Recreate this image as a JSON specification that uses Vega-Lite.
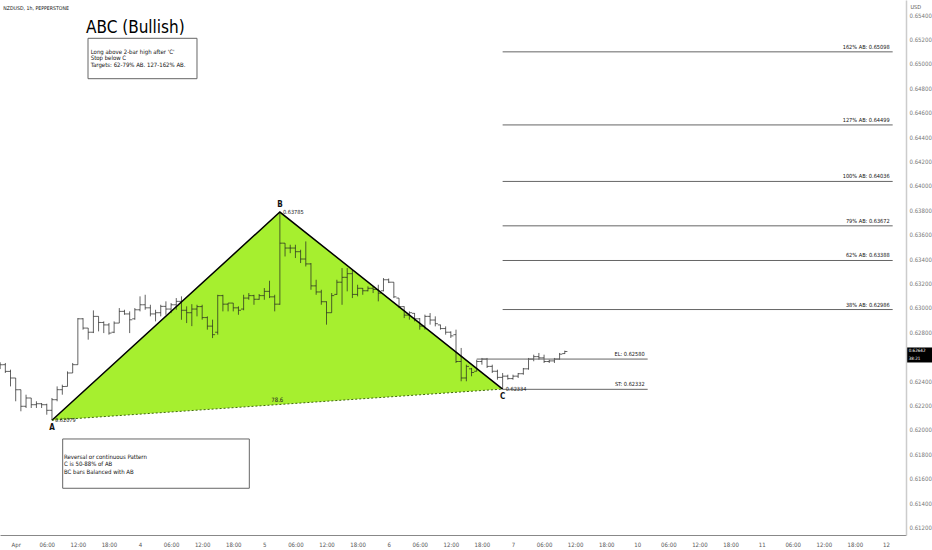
{
  "$schema": "https://vega.github.io/schema/vega-lite/v6.json",
  "width": 906,
  "height": 535,
  "autosize": {"type": "none"},
  "padding": {"left": 0, "top": 0, "right": 26, "bottom": 15},
  "background": "white",
  "config": {
    "view": {"stroke": null},
    "font": "Liberation Sans Narrow, DejaVu Sans Condensed, sans-serif",
    "axis": {"labelOverlap": false, "labelSeparation": 0, "labelBound": false, "labelFlush": false, "grid": false, "ticks": false, "tickSize": 0}
  },
  "datasets": {
    "pts": [
      {"p": "A", "h": 7, "v": 0.62079},
      {"p": "B", "h": 51, "v": 0.63785},
      {"p": "C", "h": 94, "v": 0.62334}
    ],
    "bars": [
      {"h": -3, "o": 0.62548, "hi": 0.62553, "lo": 0.62498, "c": 0.62534},
      {"h": -2, "o": 0.62534, "hi": 0.62548, "lo": 0.62466, "c": 0.62479},
      {"h": -1, "o": 0.62479, "hi": 0.62493, "lo": 0.62356, "c": 0.62425},
      {"h": 0, "o": 0.62425, "hi": 0.62425, "lo": 0.62234, "c": 0.62329},
      {"h": 1, "o": 0.62329, "hi": 0.62329, "lo": 0.62152, "c": 0.62193},
      {"h": 2, "o": 0.62193, "hi": 0.62288, "lo": 0.62179, "c": 0.62261},
      {"h": 3, "o": 0.62261, "hi": 0.62261, "lo": 0.62179, "c": 0.62206},
      {"h": 4, "o": 0.62206, "hi": 0.62234, "lo": 0.62179, "c": 0.62214},
      {"h": 5, "o": 0.62214, "hi": 0.6222, "lo": 0.62179, "c": 0.62206},
      {"h": 6, "o": 0.62206, "hi": 0.62214, "lo": 0.62124, "c": 0.6216},
      {"h": 7, "o": 0.6216, "hi": 0.62261, "lo": 0.62079, "c": 0.62247},
      {"h": 8, "o": 0.62247, "hi": 0.62356, "lo": 0.62234, "c": 0.62329},
      {"h": 9, "o": 0.62329, "hi": 0.6237, "lo": 0.62288, "c": 0.62356},
      {"h": 10, "o": 0.62356, "hi": 0.62479, "lo": 0.62356, "c": 0.62466},
      {"h": 11, "o": 0.62466, "hi": 0.62548, "lo": 0.62466, "c": 0.62534},
      {"h": 12, "o": 0.62534, "hi": 0.62916, "lo": 0.62534, "c": 0.6291},
      {"h": 13, "o": 0.6291, "hi": 0.62916, "lo": 0.62821, "c": 0.62834},
      {"h": 14, "o": 0.62834, "hi": 0.62834, "lo": 0.62739, "c": 0.628},
      {"h": 15, "o": 0.628, "hi": 0.62979, "lo": 0.62793, "c": 0.6293},
      {"h": 16, "o": 0.6293, "hi": 0.6293, "lo": 0.62807, "c": 0.6288},
      {"h": 17, "o": 0.6288, "hi": 0.62889, "lo": 0.62793, "c": 0.6286},
      {"h": 18, "o": 0.6286, "hi": 0.62875, "lo": 0.6278, "c": 0.62793},
      {"h": 19, "o": 0.628, "hi": 0.62889, "lo": 0.62793, "c": 0.62875},
      {"h": 20, "o": 0.62875, "hi": 0.62998, "lo": 0.62875, "c": 0.62971},
      {"h": 21, "o": 0.62971, "hi": 0.62984, "lo": 0.62943, "c": 0.6295},
      {"h": 22, "o": 0.6295, "hi": 0.62971, "lo": 0.62793, "c": 0.62902},
      {"h": 23, "o": 0.6291, "hi": 0.62998, "lo": 0.62902, "c": 0.62984},
      {"h": 24, "o": 0.62984, "hi": 0.63094, "lo": 0.62971, "c": 0.63025},
      {"h": 25, "o": 0.63025, "hi": 0.63107, "lo": 0.62984, "c": 0.63},
      {"h": 26, "o": 0.63, "hi": 0.63025, "lo": 0.6293, "c": 0.6295},
      {"h": 27, "o": 0.6295, "hi": 0.62984, "lo": 0.62889, "c": 0.6296},
      {"h": 28, "o": 0.6296, "hi": 0.63025, "lo": 0.6293, "c": 0.63012},
      {"h": 29, "o": 0.63012, "hi": 0.63053, "lo": 0.62943, "c": 0.6299},
      {"h": 30, "o": 0.6299, "hi": 0.63039, "lo": 0.62957, "c": 0.63025},
      {"h": 31, "o": 0.63025, "hi": 0.6308, "lo": 0.62984, "c": 0.63053},
      {"h": 32, "o": 0.63053, "hi": 0.63094, "lo": 0.62902, "c": 0.6298},
      {"h": 33, "o": 0.6298, "hi": 0.63012, "lo": 0.62875, "c": 0.6296},
      {"h": 34, "o": 0.6296, "hi": 0.6303, "lo": 0.6285, "c": 0.6299},
      {"h": 35, "o": 0.6299, "hi": 0.63025, "lo": 0.6293, "c": 0.6301},
      {"h": 36, "o": 0.6301, "hi": 0.63025, "lo": 0.62903, "c": 0.6292},
      {"h": 37, "o": 0.6292, "hi": 0.6293, "lo": 0.62821, "c": 0.6285},
      {"h": 38, "o": 0.6285, "hi": 0.62903, "lo": 0.62752, "c": 0.6278},
      {"h": 39, "o": 0.628, "hi": 0.63107, "lo": 0.6278, "c": 0.631},
      {"h": 40, "o": 0.631, "hi": 0.63107, "lo": 0.62971, "c": 0.6303},
      {"h": 41, "o": 0.6303, "hi": 0.63039, "lo": 0.62971, "c": 0.63039},
      {"h": 42, "o": 0.63039, "hi": 0.63039, "lo": 0.62971, "c": 0.63},
      {"h": 43, "o": 0.63, "hi": 0.63012, "lo": 0.62943, "c": 0.6298},
      {"h": 44, "o": 0.6299, "hi": 0.63107, "lo": 0.6298, "c": 0.6308},
      {"h": 45, "o": 0.6308, "hi": 0.63121, "lo": 0.63066, "c": 0.631},
      {"h": 46, "o": 0.631, "hi": 0.63107, "lo": 0.63025, "c": 0.6307},
      {"h": 47, "o": 0.6307, "hi": 0.63113, "lo": 0.63066, "c": 0.631},
      {"h": 48, "o": 0.631, "hi": 0.63162, "lo": 0.63066, "c": 0.63135},
      {"h": 49, "o": 0.63135, "hi": 0.63222, "lo": 0.6308, "c": 0.6309},
      {"h": 50, "o": 0.6309, "hi": 0.63107, "lo": 0.62971, "c": 0.6303},
      {"h": 51, "o": 0.6303, "hi": 0.63785, "lo": 0.63025, "c": 0.6353},
      {"h": 52, "o": 0.6353, "hi": 0.6353, "lo": 0.63421, "c": 0.6349},
      {"h": 53, "o": 0.6349, "hi": 0.63517, "lo": 0.63448, "c": 0.6349},
      {"h": 54, "o": 0.6349, "hi": 0.63517, "lo": 0.63408, "c": 0.6346},
      {"h": 55, "o": 0.6346, "hi": 0.63476, "lo": 0.63367, "c": 0.634},
      {"h": 56, "o": 0.634, "hi": 0.63544, "lo": 0.63339, "c": 0.6336},
      {"h": 57, "o": 0.6336, "hi": 0.63367, "lo": 0.63148, "c": 0.6318},
      {"h": 58, "o": 0.6318, "hi": 0.6323, "lo": 0.63107, "c": 0.6313},
      {"h": 59, "o": 0.6313, "hi": 0.63148, "lo": 0.63025, "c": 0.6305},
      {"h": 60, "o": 0.6305, "hi": 0.63053, "lo": 0.62862, "c": 0.6296},
      {"h": 61, "o": 0.6296, "hi": 0.63121, "lo": 0.6296, "c": 0.631},
      {"h": 62, "o": 0.6311, "hi": 0.6323, "lo": 0.63107, "c": 0.6321},
      {"h": 63, "o": 0.6321, "hi": 0.63326, "lo": 0.63025, "c": 0.6325},
      {"h": 64, "o": 0.6325, "hi": 0.63326, "lo": 0.63135, "c": 0.6328},
      {"h": 65, "o": 0.6328, "hi": 0.63312, "lo": 0.6308, "c": 0.6311},
      {"h": 66, "o": 0.6311, "hi": 0.63189, "lo": 0.63094, "c": 0.6316},
      {"h": 67, "o": 0.6316, "hi": 0.63162, "lo": 0.63107, "c": 0.6314},
      {"h": 68, "o": 0.6314, "hi": 0.63176, "lo": 0.63135, "c": 0.6316},
      {"h": 69, "o": 0.6316, "hi": 0.63176, "lo": 0.63121, "c": 0.6315},
      {"h": 70, "o": 0.6315, "hi": 0.63189, "lo": 0.63053, "c": 0.6312},
      {"h": 71, "o": 0.6314, "hi": 0.63244, "lo": 0.63135, "c": 0.6323},
      {"h": 72, "o": 0.6323, "hi": 0.6324, "lo": 0.63203, "c": 0.6321},
      {"h": 73, "o": 0.6321, "hi": 0.6321, "lo": 0.6308, "c": 0.6309},
      {"h": 74, "o": 0.6308, "hi": 0.6308, "lo": 0.62998, "c": 0.6301},
      {"h": 75, "o": 0.6301, "hi": 0.63012, "lo": 0.62916, "c": 0.6294},
      {"h": 76, "o": 0.6294, "hi": 0.62971, "lo": 0.62903, "c": 0.6296},
      {"h": 77, "o": 0.62955, "hi": 0.62957, "lo": 0.62889, "c": 0.6291},
      {"h": 78, "o": 0.6291, "hi": 0.62916, "lo": 0.62821, "c": 0.6285},
      {"h": 79, "o": 0.6285, "hi": 0.62944, "lo": 0.62821, "c": 0.6293},
      {"h": 80, "o": 0.6293, "hi": 0.62957, "lo": 0.62862, "c": 0.629},
      {"h": 81, "o": 0.629, "hi": 0.6293, "lo": 0.62848, "c": 0.6287},
      {"h": 82, "o": 0.6286, "hi": 0.62862, "lo": 0.62821, "c": 0.6283},
      {"h": 83, "o": 0.6283, "hi": 0.62848, "lo": 0.6278, "c": 0.628},
      {"h": 84, "o": 0.628, "hi": 0.62807, "lo": 0.62753, "c": 0.6277},
      {"h": 85, "o": 0.6278, "hi": 0.62821, "lo": 0.62548, "c": 0.6256},
      {"h": 86, "o": 0.6256, "hi": 0.62671, "lo": 0.62398, "c": 0.62425},
      {"h": 87, "o": 0.62425, "hi": 0.62534, "lo": 0.62398, "c": 0.6252},
      {"h": 88, "o": 0.625, "hi": 0.62507, "lo": 0.62439, "c": 0.6247},
      {"h": 89, "o": 0.6248, "hi": 0.62575, "lo": 0.6248, "c": 0.6256},
      {"h": 90, "o": 0.6256, "hi": 0.62589, "lo": 0.62534, "c": 0.6258},
      {"h": 91, "o": 0.6258, "hi": 0.62589, "lo": 0.62507, "c": 0.6252},
      {"h": 92, "o": 0.6252, "hi": 0.62534, "lo": 0.62466, "c": 0.6248},
      {"h": 93, "o": 0.6248, "hi": 0.62493, "lo": 0.62411, "c": 0.6243},
      {"h": 94, "o": 0.6243, "hi": 0.62466, "lo": 0.62334, "c": 0.6244},
      {"h": 95, "o": 0.6244, "hi": 0.62452, "lo": 0.62411, "c": 0.6242},
      {"h": 96, "o": 0.6242, "hi": 0.62452, "lo": 0.62411, "c": 0.6244},
      {"h": 97, "o": 0.6244, "hi": 0.62466, "lo": 0.62425, "c": 0.6246},
      {"h": 98, "o": 0.6246, "hi": 0.62507, "lo": 0.62452, "c": 0.625},
      {"h": 99, "o": 0.625, "hi": 0.62589, "lo": 0.62493, "c": 0.6258},
      {"h": 100, "o": 0.6258, "hi": 0.62616, "lo": 0.62562, "c": 0.626},
      {"h": 101, "o": 0.626, "hi": 0.6263, "lo": 0.62575, "c": 0.6259},
      {"h": 102, "o": 0.6259, "hi": 0.62616, "lo": 0.62548, "c": 0.6256},
      {"h": 103, "o": 0.6256, "hi": 0.62575, "lo": 0.62548, "c": 0.62565},
      {"h": 104, "o": 0.62565, "hi": 0.62589, "lo": 0.62548, "c": 0.6258},
      {"h": 105, "o": 0.6258, "hi": 0.6263, "lo": 0.62575, "c": 0.6262},
      {"h": 106, "o": 0.62625, "hi": 0.62649, "lo": 0.62622, "c": 0.62642}
    ],
    "levels": [
      {"lbl": "162% AB: 0.65098", "v": 0.65098, "h1": 94, "h2": 169.3},
      {"lbl": "127% AB: 0.64499", "v": 0.64499, "h1": 94, "h2": 169.3},
      {"lbl": "100% AB: 0.64036", "v": 0.64036, "h1": 94, "h2": 169.3},
      {"lbl": "79% AB: 0.63672", "v": 0.63672, "h1": 94, "h2": 169.3},
      {"lbl": "62% AB: 0.63388", "v": 0.63388, "h1": 94, "h2": 169.3},
      {"lbl": "38% AB: 0.62986", "v": 0.62986, "h1": 94, "h2": 169.3},
      {"lbl": "EL: 0.62580", "v": 0.6258, "h1": 89, "h2": 122},
      {"lbl": "ST: 0.62332", "v": 0.62332, "h1": 94, "h2": 122}
    ],
    "boxes": [
      {"h1": 13.96, "h2": 35.0, "v1": 0.65209, "v2": 0.64878},
      {"h1": 9.07, "h2": 45.1, "v1": 0.61925, "v2": 0.61521}
    ],
    "notes": [
      {"t": "Long above 2-bar high after 'C'", "h": 14.48, "v": 0.65084},
      {"t": "Stop below C", "h": 14.48, "v": 0.6503},
      {"t": "Targets:  62-79% AB. 127-162% AB.", "h": 14.48, "v": 0.64975},
      {"t": "Reversal or continuous Pattern", "h": 9.32, "v": 0.61761},
      {"t": "C is 50-88% of AB", "h": 9.32, "v": 0.61701},
      {"t": "BC bars Balanced with AB", "h": 9.32, "v": 0.61642}
    ],
    "title": [{"t": "ABC (Bullish)", "h": 13.57, "v": 0.6525}],
    "header": [{"t": "NZDUSD, 1h, PEPPERSTONE", "h": -2.39, "v": 0.65441}],
    "ratio": [{"t": "78.6", "h": 50.5, "v": 0.622065}],
    "pricebox": [{"h1": 172.1, "h2": 176.9, "v1": 0.62675, "v2": 0.62552}],
    "pricetext": [
      {"t": "0.62642", "h": 172.4, "v": 0.6265},
      {"t": "38:21", "h": 172.4, "v": 0.62577}
    ]
  },
  "layer": [
    {
      "data": {"name": "pts"},
      "mark": {"type": "line", "interpolate": "linear-closed", "fill": "#a6ef2f", "strokeOpacity": 0},
      "encoding": {
        "x": {
          "field": "h", "type": "quantitative", "title": null,
          "scale": {"domain": [-3.03, 171.87], "nice": false, "zero": false},
          "axis": {
            "title": null, "orient": "bottom", "grid": false, "ticks": false, "tickSize": 0, "tickCount": 60,
            "domainColor": "#888888", "domainWidth": 1,
            "values": [0, 6, 12, 18, 24, 30, 36, 42, 48, 54, 60, 66, 72, 78, 84, 90, 96, 102, 108, 114, 120, 126, 132, 138, 144, 150, 156, 162, 168],
            "labelExpr": "datum.value % 24 === 0 ? ['Apr','4','5','6','7','10','11','12'][datum.value / 24] : (datum.value % 24 === 6 ? '06:00' : (datum.value % 24 === 12 ? '12:00' : '18:00'))",
            "labelFontSize": 6, "labelColor": "#555555", "labelPadding": 6,
            "labelOverlap": false, "labelFlush": false, "labelBound": false
          }
        },
        "y": {
          "field": "v", "type": "quantitative", "title": "USD",
          "scale": {"domain": [0.61138, 0.65523], "nice": false, "zero": false},
          "axis": {
            "title": "USD", "orient": "right", "grid": false, "ticks": false, "tickSize": 0, "tickCount": 60,
            "domainColor": "#cccccc", "domainWidth": 1.5,
            "values": [0.612, 0.614, 0.616, 0.618, 0.62, 0.622, 0.624, 0.626, 0.628, 0.63, 0.632, 0.634, 0.636, 0.638, 0.64, 0.642, 0.644, 0.646, 0.648, 0.65, 0.652, 0.654],
            "format": ".5f", "labelFontSize": 6, "labelColor": "#777777", "labelPadding": 3,
            "labelOverlap": false, "labelBound": false,
            "titleAngle": 0, "titleX": 4, "titleY": 8, "titleAlign": "left", "titleBaseline": "alphabetic",
            "titleFontSize": 5.5, "titleFontWeight": "normal", "titleColor": "#555555"
          }
        }
      }
    },
    {
      "data": {"name": "bars"},
      "mark": {"type": "rule", "color": "#222222", "opacity": 0.7, "strokeWidth": 1},
      "encoding": {
        "x": {"field": "h", "type": "quantitative", "title": null},
        "y": {"field": "lo", "type": "quantitative", "title": "USD"},
        "y2": {"field": "hi"}
      }
    },
    {
      "data": {"name": "bars"},
      "mark": {"type": "tick", "orient": "horizontal", "size": 2.6, "thickness": 1, "xOffset": -1.3, "color": "#222222", "opacity": 0.7},
      "encoding": {
        "x": {"field": "h", "type": "quantitative", "title": null},
        "y": {"field": "o", "type": "quantitative", "title": "USD"}
      }
    },
    {
      "data": {"name": "bars"},
      "mark": {"type": "tick", "orient": "horizontal", "size": 2.6, "thickness": 1, "xOffset": 1.3, "color": "#222222", "opacity": 0.7},
      "encoding": {
        "x": {"field": "h", "type": "quantitative", "title": null},
        "y": {"field": "c", "type": "quantitative", "title": "USD"}
      }
    },
    {
      "data": {"name": "pts"},
      "mark": {"type": "line", "color": "#000000", "strokeWidth": 1.5},
      "encoding": {
        "x": {"field": "h", "type": "quantitative", "title": null},
        "y": {"field": "v", "type": "quantitative", "title": "USD"}
      }
    },
    {
      "data": {"name": "pts"},
      "transform": [{"filter": "datum.p !== 'B'"}],
      "mark": {"type": "line", "color": "#3f6a0a", "strokeWidth": 1, "strokeDash": [2, 2]},
      "encoding": {
        "x": {"field": "h", "type": "quantitative", "title": null},
        "y": {"field": "v", "type": "quantitative", "title": "USD"}
      }
    },
    {
      "data": {"name": "levels"},
      "mark": {"type": "rule", "color": "#666666", "strokeWidth": 1},
      "encoding": {
        "x": {"field": "h1", "type": "quantitative", "title": null},
        "x2": {"field": "h2"},
        "y": {"field": "v", "type": "quantitative", "title": "USD"}
      }
    },
    {
      "data": {"name": "levels"},
      "mark": {"type": "text", "align": "right", "baseline": "alphabetic", "dx": -3, "dy": -3, "fontSize": 5.6, "color": "#111111"},
      "encoding": {
        "x": {"field": "h2", "type": "quantitative", "title": null},
        "y": {"field": "v", "type": "quantitative", "title": "USD"},
        "text": {"field": "lbl"}
      }
    },
    {
      "data": {"name": "boxes"},
      "mark": {"type": "rect", "fill": "#ffffff", "stroke": "#666666", "strokeWidth": 1},
      "encoding": {
        "x": {"field": "h1", "type": "quantitative", "title": null},
        "x2": {"field": "h2"},
        "y": {"field": "v1", "type": "quantitative", "title": "USD"},
        "y2": {"field": "v2"}
      }
    },
    {
      "data": {"name": "notes"},
      "mark": {"type": "text", "align": "left", "baseline": "alphabetic", "fontSize": 6, "color": "#111111"},
      "encoding": {
        "x": {"field": "h", "type": "quantitative", "title": null},
        "y": {"field": "v", "type": "quantitative", "title": "USD"},
        "text": {"field": "t"}
      }
    },
    {
      "data": {"name": "title"},
      "mark": {"type": "text", "align": "left", "baseline": "alphabetic", "fontSize": 17, "color": "#000000"},
      "encoding": {
        "x": {"field": "h", "type": "quantitative", "title": null},
        "y": {"field": "v", "type": "quantitative", "title": "USD"},
        "text": {"field": "t"}
      }
    },
    {
      "data": {"name": "header"},
      "mark": {"type": "text", "align": "left", "baseline": "alphabetic", "fontSize": 5.2, "color": "#111111"},
      "encoding": {
        "x": {"field": "h", "type": "quantitative", "title": null},
        "y": {"field": "v", "type": "quantitative", "title": "USD"},
        "text": {"field": "t"}
      }
    },
    {
      "data": {"name": "pts"},
      "transform": [{"filter": "datum.p !== 'B'"}],
      "mark": {"type": "text", "align": "center", "baseline": "top", "dy": 4, "fontSize": 8, "fontWeight": "bold", "color": "#111111"},
      "encoding": {
        "x": {"field": "h", "type": "quantitative", "title": null},
        "y": {"field": "v", "type": "quantitative", "title": "USD"},
        "text": {"field": "p"}
      }
    },
    {
      "data": {"name": "pts"},
      "transform": [{"filter": "datum.p === 'B'"}],
      "mark": {"type": "text", "align": "center", "baseline": "bottom", "dy": -3, "fontSize": 8, "fontWeight": "bold", "color": "#111111"},
      "encoding": {
        "x": {"field": "h", "type": "quantitative", "title": null},
        "y": {"field": "v", "type": "quantitative", "title": "USD"},
        "text": {"field": "p"}
      }
    },
    {
      "data": {"name": "pts"},
      "mark": {"type": "text", "align": "left", "baseline": "middle", "dx": 3, "fontSize": 5.6, "color": "#222222"},
      "encoding": {
        "x": {"field": "h", "type": "quantitative", "title": null},
        "y": {"field": "v", "type": "quantitative", "title": "USD"},
        "text": {"field": "v", "type": "quantitative", "format": ".5f"}
      }
    },
    {
      "data": {"name": "ratio"},
      "mark": {"type": "text", "align": "center", "baseline": "alphabetic", "dy": -3, "fontSize": 6, "color": "#222222"},
      "encoding": {
        "x": {"field": "h", "type": "quantitative", "title": null},
        "y": {"field": "v", "type": "quantitative", "title": "USD"},
        "text": {"field": "t"}
      }
    },
    {
      "data": {"name": "pricebox"},
      "mark": {"type": "rect", "fill": "#000000"},
      "encoding": {
        "x": {"field": "h1", "type": "quantitative", "title": null},
        "x2": {"field": "h2"},
        "y": {"field": "v1", "type": "quantitative", "title": "USD"},
        "y2": {"field": "v2"}
      }
    },
    {
      "data": {"name": "pricetext"},
      "mark": {"type": "text", "align": "left", "baseline": "middle", "fontSize": 4.5, "color": "#ffffff"},
      "encoding": {
        "x": {"field": "h", "type": "quantitative", "title": null},
        "y": {"field": "v", "type": "quantitative", "title": "USD"},
        "text": {"field": "t"}
      }
    }
  ]
}
